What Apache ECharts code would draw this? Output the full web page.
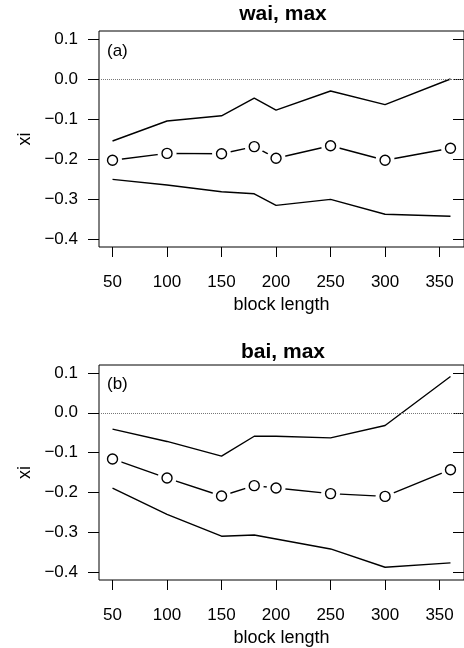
<!DOCTYPE html>
<html>
<head>
	<meta charset="utf-8">
	<title>wai / bai, max</title>
	<script src="https://cdn.jsdelivr.net/npm/echarts@6/dist/echarts.min.js"></script>
	<style type="text/css">
		html, body { margin: 0; padding: 0; background-color: #fff; }
		#chartBox { width: 464px; height: 648px; }
	</style>
</head>
<body>
<div id="chartBox"></div>

<script>
	// block lengths (x)
	var blockLen = [50, 100, 150, 180, 200, 250, 300, 360];
	var xTicks = [50, 100, 150, 200, 250, 300, 350];
	var yTicks = [0.1, 0, -0.1, -0.2, -0.3, -0.4];

	// (a) wai, max
	var waiUpper = [-0.155, -0.105, -0.092, -0.048, -0.078, -0.030, -0.064, 0.000];
	var waiXi    = [-0.203, -0.186, -0.187, -0.169, -0.198, -0.167, -0.203, -0.173];
	var waiLower = [-0.251, -0.265, -0.282, -0.287, -0.316, -0.301, -0.338, -0.343];

	// (b) bai, max
	var baiUpper = [-0.041, -0.072, -0.109, -0.059, -0.059, -0.063, -0.032, 0.091];
	var baiXi    = [-0.116, -0.164, -0.209, -0.183, -0.189, -0.203, -0.210, -0.143];
	var baiLower = [-0.189, -0.255, -0.310, -0.307, -0.317, -0.342, -0.388, -0.377];

	var fontName = '"Liberation Sans", Arial, Helvetica, sans-serif';

	function pairs(ys) {
		return blockLen.map(function (x, i) { return [x, ys[i]]; });
	}

	function fmtY(v) {
		var s = (Math.round(v * 10) / 10).toFixed(1);
		return s.replace('-', '\u2212');
	}

	function xAxisOf(idx) {
		return {
			type: 'value', gridIndex: idx, min: 37.6, max: 372.4, position: 'bottom',
			name: 'block length', nameLocation: 'middle', nameGap: 49,
			nameTextStyle: { fontSize: 18, color: '#000', fontFamily: fontName },
			axisLine: { show: false, onZero: false },
			axisTick: { show: true, length: 10, customValues: xTicks, lineStyle: { color: '#000' } },
			axisLabel: { show: true, customValues: xTicks, margin: 27, fontSize: 17, color: '#000', fontFamily: fontName },
			splitLine: { show: false }
		};
	}

	function yAxisLeft(idx) {
		return {
			type: 'value', gridIndex: idx, min: -0.42, max: 0.12, position: 'left',
			name: 'xi', nameLocation: 'middle', nameGap: 65, nameRotate: 90,
			nameTextStyle: { fontSize: 18, color: '#000', fontFamily: fontName },
			axisLine: { show: false, onZero: false },
			axisTick: { show: true, length: 11, customValues: yTicks, lineStyle: { color: '#000' } },
			axisLabel: { show: true, customValues: yTicks, margin: 21, fontSize: 17, color: '#000', fontFamily: fontName, formatter: fmtY },
			splitLine: { show: false }
		};
	}

	function yAxisRight(idx) {
		return {
			type: 'value', gridIndex: idx, min: -0.42, max: 0.12, position: 'right',
			axisLine: { show: false, onZero: false },
			axisTick: { show: true, inside: true, length: 11, customValues: yTicks, lineStyle: { color: '#000' } },
			axisLabel: { show: false },
			splitLine: { show: false }
		};
	}

	function panelSeries(axisIdx, upper, xi, lower) {
		var bound = { width: 1.4, color: '#000' };
		return [
			{
				type: 'line', xAxisIndex: axisIdx, yAxisIndex: axisIdx * 2, z: 2,
				data: pairs(upper), showSymbol: false, lineStyle: bound,
				markLine: {
					silent: true, symbol: ['none', 'none'], label: { show: false },
					lineStyle: { type: 'dotted', color: '#777', width: 1 },
					data: [{ yAxis: 0 }]
				}
			},
			{
				type: 'line', xAxisIndex: axisIdx, yAxisIndex: axisIdx * 2, z: 2,
				data: pairs(lower), showSymbol: false, lineStyle: bound
			},
			{
				type: 'line', xAxisIndex: axisIdx, yAxisIndex: axisIdx * 2, z: 2,
				data: pairs(xi), showSymbol: false, lineStyle: bound
			},
			// white halo, gives the gaps of R type="b"
			{
				type: 'scatter', xAxisIndex: axisIdx, yAxisIndex: axisIdx * 2, z: 3,
				data: pairs(xi), symbol: 'circle', symbolSize: 19,
				itemStyle: { color: '#fff', opacity: 1 }
			},
			{
				type: 'scatter', xAxisIndex: axisIdx, yAxisIndex: axisIdx * 2, z: 4,
				data: pairs(xi), symbol: 'circle', symbolSize: 10,
				itemStyle: { color: '#fff', borderColor: '#000', borderWidth: 1.4, opacity: 1 }
			}
		];
	}

	var chart = echarts.init(document.getElementById('chartBox'), null, { renderer: 'canvas' });

	var options = {
		animation: false,
		backgroundColor: '#fff',
		title: [
			{ text: 'wai, max', left: 283, top: 4, padding: 0, textAlign: 'center',
				textStyle: { fontSize: 21, fontWeight: 'bold', color: '#000', fontFamily: fontName } },
			{ text: 'bai, max', left: 283, top: 342, padding: 0, textAlign: 'center',
				textStyle: { fontSize: 21, fontWeight: 'bold', color: '#000', fontFamily: fontName } }
		],
		graphic: [
			{ type: 'text', left: 107, top: 43, style: { text: '(a)', font: '17px ' + fontName, fill: '#000' } },
			{ type: 'text', left: 107, top: 376, style: { text: '(b)', font: '17px ' + fontName, fill: '#000' } }
		],
		grid: [
			{ left: 99, top: 31, width: 368, height: 216, show: true, borderColor: '#000', borderWidth: 1, backgroundColor: 'transparent' },
			{ left: 99, top: 365, width: 368, height: 216, show: true, borderColor: '#000', borderWidth: 1, backgroundColor: 'transparent' }
		],
		xAxis: [xAxisOf(0), xAxisOf(1)],
		yAxis: [yAxisLeft(0), yAxisRight(0), yAxisLeft(1), yAxisRight(1)],
		series: [].concat(
			panelSeries(0, waiUpper, waiXi, waiLower),
			panelSeries(1, baiUpper, baiXi, baiLower)
		)
	};

	chart.setOption(options);
</script>
</body>
</html>
